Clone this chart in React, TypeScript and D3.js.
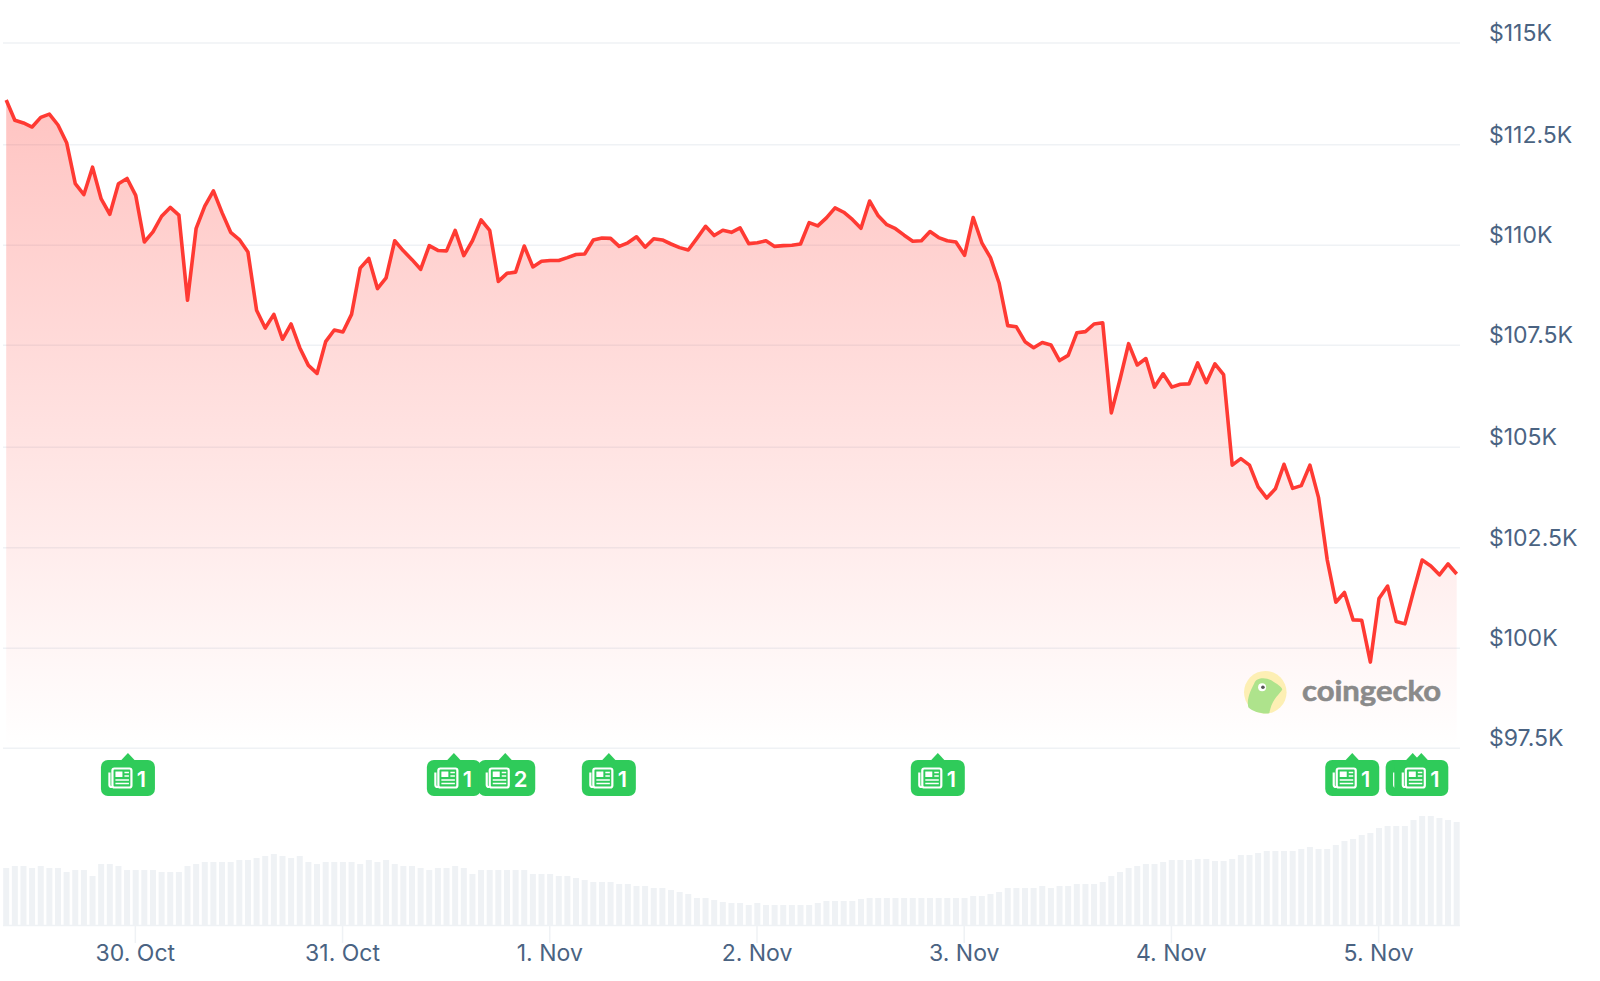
import { useEffect, useRef } from 'react'
import * as d3 from 'd3'

const width = 1600
const height = 981

// hourly price, in $K
const prices = [
  113.61, 113.11, 113.04, 112.94, 113.18, 113.26, 112.99, 112.55, 111.53, 111.26, 111.94, 111.15,
  110.77, 111.53, 111.66, 111.24, 110.08, 110.33, 110.72, 110.94, 110.75, 108.63, 110.42, 110.97,
  111.35, 110.81, 110.32, 110.14, 109.83, 108.38, 107.94, 108.28, 107.66, 108.04, 107.45, 107.01,
  106.81, 107.6, 107.89, 107.84, 108.28, 109.43, 109.67, 108.92, 109.19, 110.11, 109.86, 109.64,
  109.4, 109.99, 109.87, 109.86, 110.37, 109.74, 110.11, 110.63, 110.37, 109.1,
  109.3, 109.33, 109.98, 109.46, 109.6, 109.62, 109.62, 109.69, 109.77, 109.78, 110.13, 110.18,
  110.17, 109.97, 110.06, 110.21, 109.95, 110.16, 110.13, 110.03, 109.94, 109.88, 110.17, 110.47,
  110.24, 110.37, 110.32, 110.43, 110.04, 110.06, 110.11, 109.97, 109.99, 110.0, 110.03, 110.56,
  110.48, 110.68, 110.93, 110.82, 110.64, 110.42, 111.1, 110.73, 110.51, 110.41, 110.25, 110.1,
  110.11, 110.34, 110.19, 110.11, 110.08, 109.75, 110.69, 110.06, 109.69, 109.06,
  108.0, 107.97, 107.6, 107.45, 107.58, 107.52, 107.13, 107.26, 107.82, 107.85, 108.04, 108.07,
  105.83, 106.66, 107.55, 107.02, 107.18, 106.47, 106.8, 106.47, 106.54, 106.55, 107.07, 106.58,
  107.05, 106.78, 104.53, 104.69, 104.53, 103.99, 103.71, 103.94, 104.55, 103.95, 104.02, 104.53,
  103.72, 102.18, 101.12, 101.36, 100.68, 100.67, 99.63, 101.21, 101.52, 100.64, 100.58, 101.39,
  102.17, 102.02, 101.8, 102.07, 101.82,
]

// hourly volume, in relative units
const volumes = [
  57, 59, 59, 57, 59, 57, 57, 53, 55, 55, 49, 61, 61, 59, 55, 55, 55, 55, 53, 53, 53, 59, 61, 63,
  63, 63, 63, 65, 65, 67, 69, 71, 69, 67, 69, 63, 61, 63, 63, 63, 63, 61, 65, 63, 65, 61, 59, 59,
  57, 55, 57, 57, 59, 57, 51, 55, 55, 55, 55, 55, 55, 51, 51, 51, 49, 49, 47, 45, 43, 43, 43, 41,
  41, 39, 39, 37, 37, 35, 33, 31, 27, 27, 25, 23, 22, 22, 20, 22, 20, 20, 20, 20, 20, 20, 22, 24,
  24, 24, 24, 26, 27, 27, 27, 27, 27, 27, 27, 27, 27, 27, 27, 27, 29, 29, 31, 33, 37, 37, 37, 37,
  39, 37, 39, 39, 41, 41, 41, 43, 49, 53, 57, 59, 61, 61, 63, 65, 65, 65, 66, 66, 64, 64, 66, 70,
  70, 72, 74, 74, 74, 74, 76, 78, 76, 76, 80, 84, 86, 90, 92, 97, 99, 99, 99, 105, 109, 109, 107,
  105, 103,
]

const priceTicks = [97.5, 100, 102.5, 105, 107.5, 110, 112.5, 115]

// news flags: hour offset from the first point, and article count
const newsHours = [14.1, 51.85, 57.8, 69.8, 107.9, 155.9, 162.9, 163.9]
const newsCounts = [1, 1, 2, 1, 1, 1, 1, 1]

const HOUR = 3600 * 1000
const startTime = Date.UTC(2025, 9, 29, 9, 6)

const GRID = '#eff2f5'
const TEXT = '#4a6382'
const RED = '#ff3a33'
const GREEN = '#2fcb5a'
const FONT = 'Inter, sans-serif'

export default function App() {
  const svgRef = useRef<SVGSVGElement>(null)

  useEffect(() => {
    if (!svgRef.current) return
    const svg = d3.select(svgRef.current)
    svg.selectAll('*').remove()

    const plotLeft = 3
    const plotRight = 1460
    const baseY = 925

    const x = d3.scaleUtc()
      .domain([startTime, startTime + 168 * HOUR])
      .range([6.2, 1456.7])
    const xAt = (i: number) => x(startTime + i * HOUR)
    const y = d3.scaleLinear().domain([97.5, 115]).range([747.7, 44.2])
    // the screenshot's grid rows are not quite evenly spaced
    const yGrid = d3.scaleLinear().domain(priceTicks)
      .range([747.7, 647.7, 547.3, 446.7, 344.7, 244.7, 144.3, 42.5])
    const yVol = d3.scaleLinear().domain([0, 110]).range([baseY, baseY - 110])

    // Horizontal grid lines
    const grid = svg.append('g').attr('transform', `translate(${plotRight},0)`)
      .call(d3.axisLeft(yGrid).tickValues(priceTicks).tickSize(plotRight - plotLeft).tickFormat(() => ''))
    grid.select('.domain').remove()
    grid.selectAll('line').attr('stroke', GRID).attr('stroke-width', 1.6)

    // Price labels
    const yAxis = svg.append('g').attr('transform', `translate(${plotRight},0)`)
      .call(d3.axisRight(yGrid).tickValues(priceTicks).tickSize(0).tickPadding(29).tickFormat(d => `$${d}K`))
    yAxis.select('.domain').remove()
    yAxis.selectAll('text')
      .attr('fill', TEXT).attr('font-size', '23px').attr('font-family', FONT).attr('dy', '-0.09em')

    // Area + line
    const defs = svg.append('defs')
    const grad = defs.append('linearGradient').attr('id', 'area-grad').attr('x1', '0').attr('y1', '0').attr('x2', '0').attr('y2', '1')
    grad.append('stop').attr('offset', '0%').attr('stop-color', RED).attr('stop-opacity', 0.3)
    grad.append('stop').attr('offset', '100%').attr('stop-color', RED).attr('stop-opacity', 0)

    const area = d3.area<number>()
      .x((_, i) => xAt(i))
      .y0(y(97.5)).y1(d => y(d))
    svg.append('path').datum(prices).attr('fill', 'url(#area-grad)').attr('d', area)

    const line = d3.line<number>()
      .x((_, i) => xAt(i))
      .y(d => y(d))
    svg.append('path').datum(prices)
      .attr('fill', 'none')
      .attr('stroke', RED)
      .attr('stroke-width', 3.6)
      .attr('stroke-linejoin', 'round')
      .attr('d', line)

    // Volume bars
    svg.append('g').selectAll('rect').data(volumes).join('rect')
      .attr('x', (_, i) => xAt(i) - 3)
      .attr('width', 6)
      .attr('y', d => yVol(d))
      .attr('height', d => baseY - yVol(d))
      .attr('fill', GRID)

    // X axis
    svg.append('line')
      .attr('x1', plotLeft).attr('x2', plotRight)
      .attr('y1', baseY + 0.5).attr('y2', baseY + 0.5)
      .attr('stroke', GRID).attr('stroke-width', 1.5)
    const dayFormat = d3.utcFormat('%-d. %b')
    const xAxis = svg.append('g').attr('transform', `translate(0,${baseY})`)
      .call(d3.axisBottom(x).ticks(d3.utcDay.every(1)!).tickSize(18).tickPadding(2).tickFormat(d => dayFormat(d as Date)))
    xAxis.select('.domain').remove()
    xAxis.selectAll('line').attr('stroke', GRID).attr('stroke-width', 1.5)
    xAxis.selectAll('text')
      .attr('fill', TEXT).attr('font-size', '23px').attr('font-family', FONT)

    // News flags
    const flags = svg.append('g').selectAll('g').data(newsHours).join('g')
      .attr('transform', d => `translate(${xAt(d)},753)`)
    flags.each(function (_, i) {
      const f = d3.select(this)
      const many = newsCounts[i] > 1
      const right = many ? 30 : 27
      f.append('path').attr('d', 'M-7,7.5 L0,0 L7,7.5 Z').attr('fill', GREEN)
      f.append('rect')
        .attr('x', -27).attr('y', 7).attr('width', 27 + right).attr('height', 36).attr('rx', 7)
        .attr('fill', GREEN)
      // newspaper icon
      const icon = f.append('g').attr('transform', 'translate(-19,14.5)')
        .attr('fill', 'none').attr('stroke', '#fff').attr('stroke-width', 2.2)
      icon.append('rect').attr('x', 3.5).attr('y', 1).attr('width', 19).attr('height', 19).attr('rx', 2)
      icon.append('path').attr('d', 'M3.5,19.5 H2.5 a2,2 0 0 1 -2,-2 V5')
      icon.append('rect').attr('x', 6.5).attr('y', 4).attr('width', 7).attr('height', 5.5)
        .attr('fill', '#fff').attr('stroke', 'none')
      icon.append('path').attr('stroke-width', 1.6)
        .attr('d', 'M15.5,5 H20 M15.5,8.5 H20 M6.5,12.5 H20 M6.5,16 H20')
      f.append('text')
        .attr('x', many ? 15.4 : 13.5).attr('y', 33.5)
        .attr('text-anchor', 'middle')
        .attr('fill', '#fff').attr('font-size', '22px').attr('font-weight', 600).attr('font-family', FONT)
        .text(newsCounts[i])
    })

    // Watermark
    const logo = svg.append('g').attr('transform', 'translate(1265.3,692.3)')
    logo.append('circle').attr('r', 21.3).attr('fill', '#fdefb4')
    logo.append('path')
      .attr('d', 'M-17,15 C-19,6 -14,-3 -11,-9 C-9,-15 0,-15 6,-12 C12,-8 16,-6 17,-3 C15,2 7,5 4,21 C-2,22 -12,20 -17,15 Z')
      .attr('fill', '#aee38c')
    logo.append('circle').attr('cx', -3.2).attr('cy', -5).attr('r', 4).attr('fill', '#fff')
    logo.append('circle').attr('cx', -2.4).attr('cy', -5).attr('r', 1.8).attr('fill', '#555')
    svg.append('text')
      .attr('x', 1302).attr('y', 701)
      .attr('fill', '#8a8a8a').attr('font-size', '29px').attr('font-weight', 700).attr('font-family', 'Lato, sans-serif')
      .attr('stroke', '#8a8a8a').attr('stroke-width', 0.6)
      .attr('textLength', 139).attr('lengthAdjust', 'spacingAndGlyphs')
      .text('coingecko')
  }, [])

  return (
    <svg
      ref={svgRef}
      width={width}
      height={height}
      style={{ position: 'absolute', left: 0, top: 0, display: 'block' }}
    />
  )
}
